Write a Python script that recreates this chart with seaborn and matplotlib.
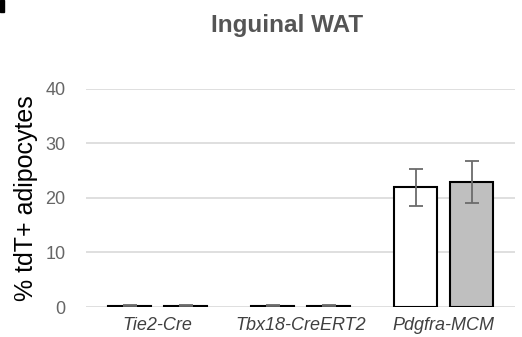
import pandas as pd
import matplotlib.pyplot as plt
import seaborn as sns
from matplotlib.patches import Rectangle

# values
groups = ['Tie2-Cre', 'Tbx18-CreERT2', 'Pdgfra-MCM']
conditions = ['Condition 1', 'Condition 2']
values_c1 = [0.2, 0.2, 22.0]
values_c2 = [0.2, 0.2, 22.9]
errors_c1 = [0.1, 0.1, 3.4]
errors_c2 = [0.1, 0.1, 3.9]
yticks = [0, 10, 20, 30, 40]

df = pd.DataFrame({
    'group': groups * 2,
    'condition': [conditions[0]] * 3 + [conditions[1]] * 3,
    'value': values_c1 + values_c2,
    'err': errors_c1 + errors_c2,
})

sns.set_style('white')
plt.rcParams['font.family'] = ['Liberation Sans', 'DejaVu Sans']

fig = plt.figure(figsize=(5.22, 3.37), dpi=100)
ax = fig.add_axes([0.165, 0.089, 0.822, 0.647])

sns.barplot(data=df, x='group', y='value', hue='condition', order=groups,
            hue_order=conditions, palette=['white', '#bfbfbf'],
            edgecolor='black', linewidth=1.5, width=0.78, gap=0.23,
            errorbar=None, legend=False, ax=ax, zorder=3)

# error bars at the bar centres seaborn placed
for bars, errs in zip(ax.containers, [errors_c1, errors_c2]):
    xs = [p.get_x() + p.get_width() / 2 for p in bars]
    hs = [p.get_height() for p in bars]
    ax.errorbar(xs, hs, yerr=errs, fmt='none', ecolor='#6b6b6b',
                elinewidth=1.3, capsize=5, capthick=1.3, zorder=4)

ax.set_ylim(0, 40)
ax.set_xlim(-0.5, 2.5)
ax.set_yticks(yticks)
ax.yaxis.grid(True, color='#d9d9d9', linewidth=1.2)
ax.set_axisbelow(True)
for s in ax.spines.values():
    s.set_visible(False)
ax.tick_params(axis='both', length=0)
ax.tick_params(axis='y', labelsize=13, labelcolor='#666666', pad=15)
ax.tick_params(axis='x', labelsize=13, labelcolor='#404040', pad=7)
for lbl in ax.get_xticklabels():
    lbl.set_style('italic')
ax.set_xlabel('')
ax.set_ylabel('% tdT+ adipocytes', fontsize=18, color='black', labelpad=5)

fig.text(0.55, 0.925, 'Inguinal WAT', ha='center', va='center',
         fontsize=17.5, fontweight='bold', color='#555555')
# cut-off panel letter fragment at the top-left corner
fig.patches.append(Rectangle((0, 1 - 12 / 337), 4 / 522, 12 / 337,
                             transform=fig.transFigure, color='black'))

fig.savefig('out.png', dpi=100)
